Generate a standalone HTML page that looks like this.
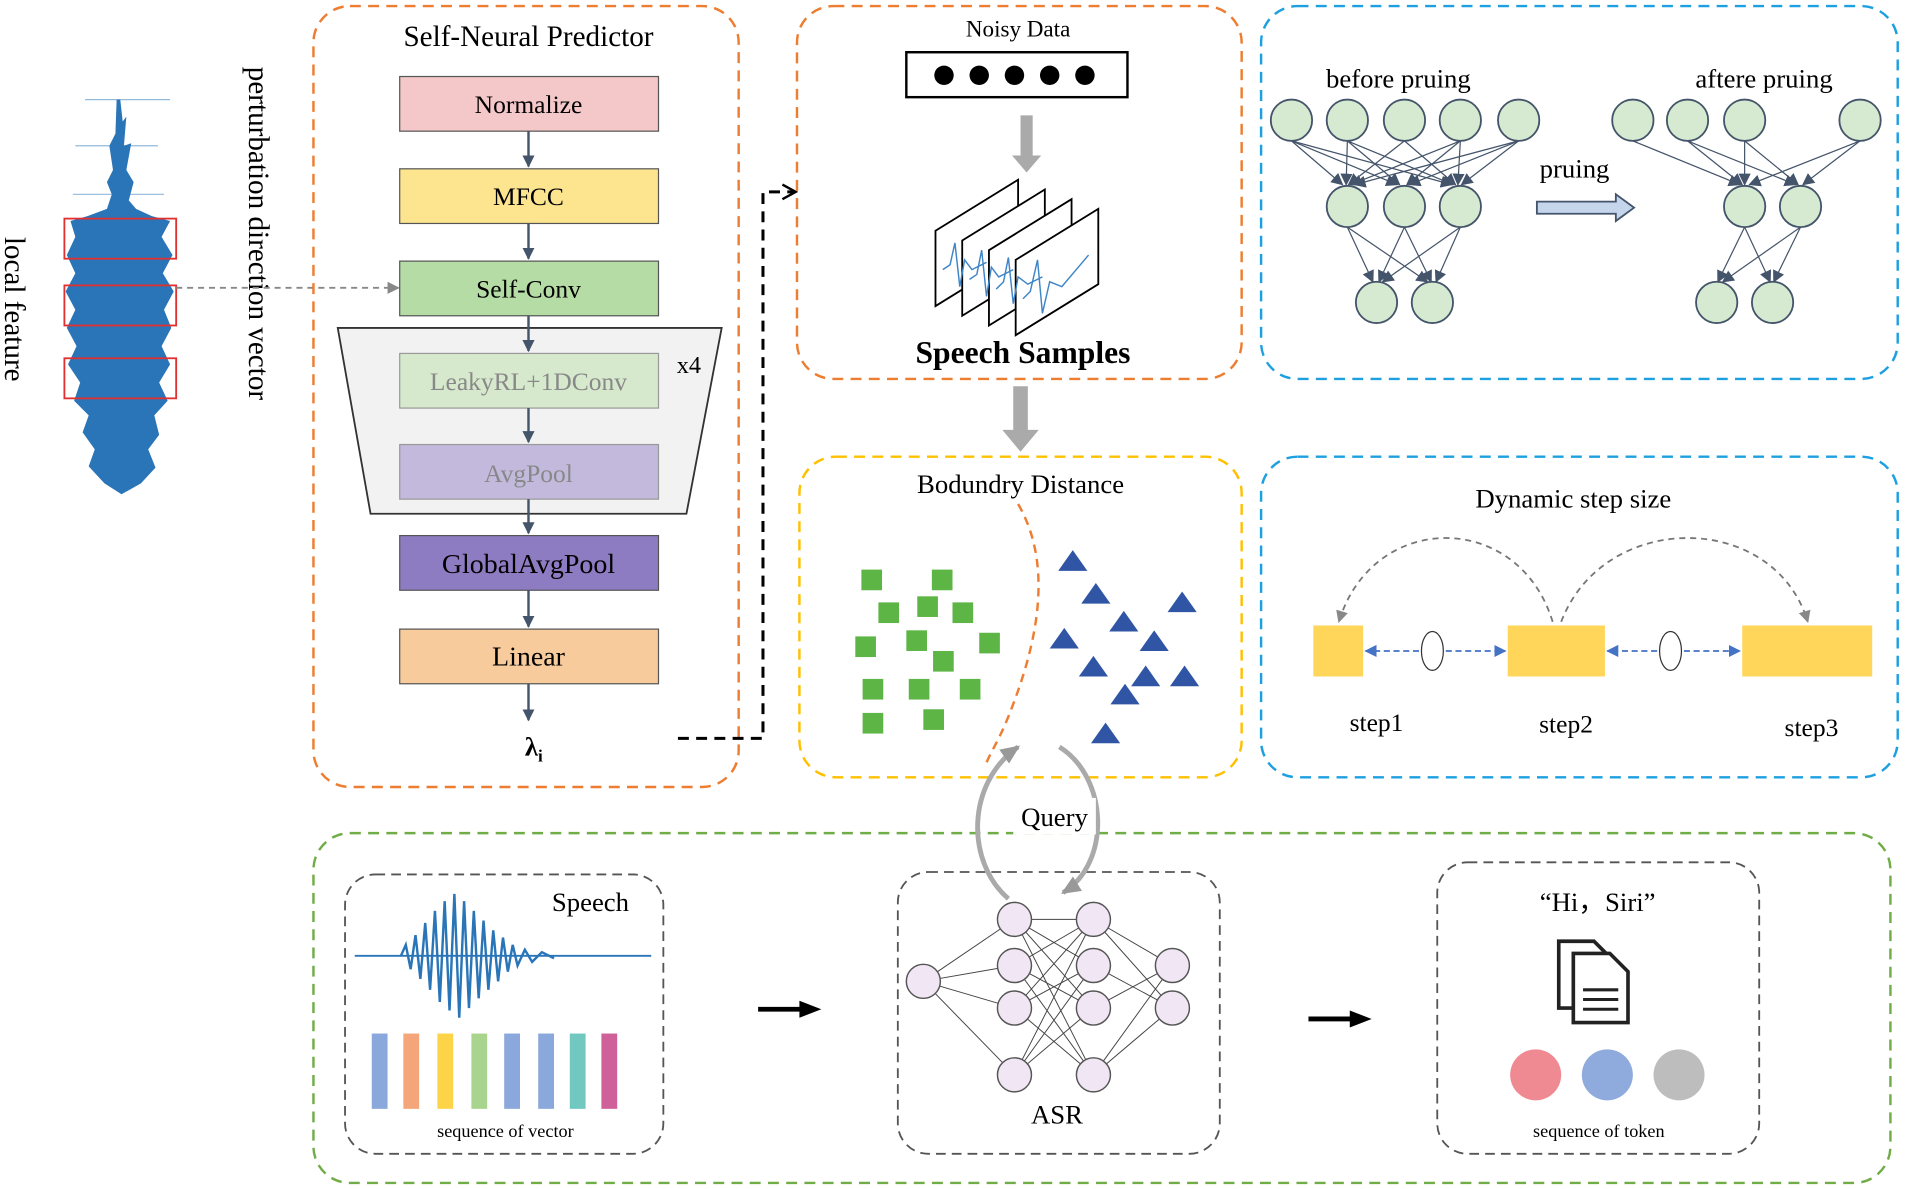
<!DOCTYPE html>
<html><head><meta charset="utf-8"><style>html,body{margin:0;padding:0;background:#fff;}svg{display:block}text{font-family:"Liberation Serif",serif;}</style></head>
<body>
<svg width="1905" height="1189" viewBox="0 0 1568 979" preserveAspectRatio="none" xmlns="http://www.w3.org/2000/svg">
<defs>
<marker id="ad" markerUnits="userSpaceOnUse" markerWidth="12" markerHeight="12" refX="9" refY="6" orient="auto"><path d="M0,1 L10,6 L0,11 z" fill="#44546a"/></marker>
<marker id="ag" markerUnits="userSpaceOnUse" markerWidth="12" markerHeight="12" refX="9" refY="6" orient="auto"><path d="M0,1 L10,6 L0,11 z" fill="#888"/></marker>
<marker id="agb" markerUnits="userSpaceOnUse" markerWidth="20" markerHeight="20" refX="14" refY="10" orient="auto"><path d="M0,3 L16,10 L0,17 z" fill="#999"/></marker>
<marker id="ab" markerUnits="userSpaceOnUse" markerWidth="12" markerHeight="12" refX="9" refY="6" orient="auto"><path d="M0,1 L10,6 L0,11 z" fill="#4472c4"/></marker>
<marker id="ak" markerUnits="userSpaceOnUse" markerWidth="14" markerHeight="14" refX="11" refY="7" orient="auto"><path d="M1,1 L12,7 L1,13" fill="none" stroke="#000" stroke-width="2"/></marker>
<marker id="an" markerUnits="userSpaceOnUse" markerWidth="12" markerHeight="12" refX="9" refY="6" orient="auto"><path d="M0,1 L10,6 L0,11 z" fill="#44546a"/></marker>
</defs>

<!-- left waveform -->
<g stroke="#2a75b8" stroke-width="1" opacity="0.5">
<line x1="70" y1="82" x2="140" y2="82"/><line x1="62" y1="120" x2="130" y2="120"/><line x1="60" y1="160" x2="135" y2="160"/>
</g>
<path fill="#2a75b8" d="M96,82 L99,82 L101,100 L104,96 L102,120 L108,118 L104,140 L110,150 L106,165 L112,172 L125,178 L140,182 L133,195 L142,210 L134,225 L143,240 L135,255 L141,270 L133,285 L140,300 L131,315 L138,330 L127,342 L131,358 L122,370 L128,385 L116,398 L100,407 L86,398 L73,384 L78,370 L68,356 L73,342 L61,330 L66,315 L56,300 L63,285 L55,270 L62,255 L54,240 L62,225 L55,210 L62,195 L58,182 L72,178 L88,172 L92,160 L88,150 L93,140 L90,120 L95,110 Z"/>
<g fill="none" stroke="#e03030" stroke-width="1.5">
<rect x="53" y="180" width="92" height="33"/><rect x="53" y="235" width="92" height="33"/><rect x="53" y="295" width="92" height="33"/>
</g>
<text transform="translate(4,195) rotate(90)" font-size="24">local feature</text>
<text transform="translate(205,55) rotate(90)" font-size="24">perturbation direction vector</text>
<line x1="145" y1="237" x2="328" y2="237" stroke="#888" stroke-width="1.5" stroke-dasharray="5,4" marker-end="url(#ag)"/>

<!-- Self-Neural Predictor -->
<rect x="258" y="5" width="350" height="643" rx="30" fill="none" stroke="#ed7d31" stroke-width="2" stroke-dasharray="9,6"/>
<text x="435" y="38" font-size="24" text-anchor="middle">Self-Neural Predictor</text>
<polygon points="278,270 594,270 565,423 305,423" fill="#f2f2f2" stroke="#333" stroke-width="1.5"/>
<text x="557" y="307" font-size="20">x4</text>
<g stroke="#555" stroke-width="1">
<rect x="329" y="63" width="213" height="45" fill="#f4c7c9"/>
<rect x="329" y="139" width="213" height="45" fill="#fde58f"/>
<rect x="329" y="215" width="213" height="45" fill="#b5dca5"/>
<rect x="329" y="291" width="213" height="45" fill="#d6e9cc" stroke="#999"/>
<rect x="329" y="366" width="213" height="45" fill="#c3b9dc" stroke="#999"/>
<rect x="329" y="441" width="213" height="45" fill="#8e7cc3"/>
<rect x="329" y="518" width="213" height="45" fill="#f8cb9c"/>
</g>
<g font-size="21" text-anchor="middle">
<text x="435" y="93">Normalize</text><text x="435" y="169">MFCC</text><text x="435" y="245">Self-Conv</text>
<text x="435" y="321" fill="#888">LeakyRL+1DConv</text><text x="435" y="397" fill="#888">AvgPool</text>
<text x="435" y="472" font-size="23">GlobalAvgPool</text><text x="435" y="548" font-size="23">Linear</text>
</g>
<g stroke="#44546a" stroke-width="2" marker-end="url(#ad)">
<line x1="435" y1="108" x2="435" y2="137"/><line x1="435" y1="184" x2="435" y2="213"/><line x1="435" y1="260" x2="435" y2="289"/>
<line x1="435" y1="336" x2="435" y2="364"/><line x1="435" y1="411" x2="435" y2="439"/><line x1="435" y1="486" x2="435" y2="516"/>
<line x1="435" y1="563" x2="435" y2="593"/>
</g>
<text x="432" y="622" font-size="22" font-weight="bold">λ<tspan font-size="14" dy="5">i</tspan></text>
<path d="M558,608 L628,608 L628,158 L654,158" fill="none" stroke="#000" stroke-width="2.5" stroke-dasharray="9,6" marker-end="url(#ak)"/>

<!-- Noisy data box -->
<rect x="656" y="5" width="366" height="307" rx="30" fill="none" stroke="#ed7d31" stroke-width="2" stroke-dasharray="9,6"/>
<text x="838" y="30" font-size="19" text-anchor="middle">Noisy Data</text>
<rect x="746" y="43" width="182" height="37" fill="#fff" stroke="#000" stroke-width="2"/>
<g fill="#000"><circle cx="777" cy="62" r="8"/><circle cx="806" cy="62" r="8"/><circle cx="835" cy="62" r="8"/><circle cx="864" cy="62" r="8"/><circle cx="893" cy="62" r="8"/></g>
<path d="M840,95 L850,95 L850,128 L857,128 L845,142 L833,128 L840,128 Z" fill="#aaa"/>
<g stroke="#000" stroke-width="1.5" fill="#fff">
<polygon points="770,190 838,148 838,210 770,252"/><polygon points="792,198 860,156 860,218 792,260"/>
<polygon points="814,206 882,164 882,226 814,268"/><polygon points="836,214 904,172 904,234 836,276"/>
</g>
<g stroke="#3f86c8" stroke-width="1.2" fill="none">
<path d="M776,222 L782,218 L786,200 L790,236 L794,214 L800,222 L812,216"/>
<path d="M798,230 L804,226 L808,206 L812,244 L816,220 L822,228 L834,222"/>
<path d="M820,238 L826,232 L830,212 L834,250 L838,228 L846,234 L858,228"/>
<path d="M842,246 L848,240 L854,214 L858,258 L864,232 L874,236 L896,210"/>
</g>
<text x="842" y="299" font-size="26" font-weight="bold" text-anchor="middle">Speech Samples</text>
<path d="M834,318 L846,318 L846,354 L855,354 L840,372 L825,354 L834,354 Z" fill="#aaa"/>

<!-- Boundary -->
<rect x="658" y="376" width="364" height="264" rx="30" fill="none" stroke="#ffc000" stroke-width="2" stroke-dasharray="9,6"/>
<text x="840" y="406" font-size="22" text-anchor="middle">Bodundry Distance</text>
<path d="M838,415 C870,470 850,540 830,590 C822,610 815,620 812,628" fill="none" stroke="#ed7d31" stroke-width="2" stroke-dasharray="7,5"/>
<g fill="#5db545">
<rect x="709" y="469" width="17" height="17"/><rect x="767" y="469" width="17" height="17"/><rect x="723" y="496" width="17" height="17"/><rect x="755" y="491" width="17" height="17"/><rect x="784" y="496" width="17" height="17"/>
<rect x="704" y="524" width="17" height="17"/><rect x="746" y="519" width="17" height="17"/><rect x="806" y="521" width="17" height="17"/><rect x="768" y="536" width="17" height="17"/>
<rect x="710" y="559" width="17" height="17"/><rect x="748" y="559" width="17" height="17"/><rect x="790" y="559" width="17" height="17"/><rect x="710" y="587" width="17" height="17"/><rect x="760" y="584" width="17" height="17"/>
</g>
<g fill="#2f55a4">
<polygon points="883,453 871,470 895,470"/><polygon points="902,480 890,497 914,497"/><polygon points="973,487 961,504 985,504"/><polygon points="925,503 913,520 937,520"/>
<polygon points="876,517 864,534 888,534"/><polygon points="950,519 938,536 962,536"/><polygon points="900,540 888,557 912,557"/><polygon points="943,548 931,565 955,565"/>
<polygon points="975,548 963,565 987,565"/><polygon points="926,563 914,580 938,580"/><polygon points="910,595 898,612 922,612"/>
</g>

<!-- pruning box -->
<rect x="1038" y="5" width="524" height="307" rx="30" fill="none" stroke="#1ea0e0" stroke-width="2" stroke-dasharray="9,6"/>
<text x="1151" y="72" font-size="22" text-anchor="middle">before pruing</text>
<text x="1452" y="72" font-size="22" text-anchor="middle">aftere pruing</text>
<text x="1296" y="146" font-size="22" text-anchor="middle">pruing</text>
<path d="M1265,166 L1330,166 L1330,160 L1345,171 L1330,182 L1330,176 L1265,176 Z" fill="#c5d5ec" stroke="#44546a" stroke-width="1.5"/>
<g stroke="#44546a" stroke-width="1" marker-end="url(#an)">
<line x1="1063" y1="116" x2="1105" y2="152"/><line x1="1063" y1="116" x2="1150" y2="152"/><line x1="1063" y1="116" x2="1195" y2="152"/>
<line x1="1109" y1="116" x2="1108" y2="152"/><line x1="1109" y1="116" x2="1152" y2="152"/><line x1="1109" y1="116" x2="1196" y2="152"/>
<line x1="1156" y1="116" x2="1110" y2="152"/><line x1="1156" y1="116" x2="1198" y2="152"/>
<line x1="1202" y1="116" x2="1112" y2="152"/><line x1="1202" y1="116" x2="1158" y2="152"/><line x1="1202" y1="116" x2="1200" y2="152"/>
<line x1="1250" y1="116" x2="1115" y2="152"/><line x1="1250" y1="116" x2="1160" y2="152"/><line x1="1250" y1="116" x2="1203" y2="152"/>
<line x1="1109" y1="187" x2="1130" y2="232"/><line x1="1109" y1="187" x2="1175" y2="232"/><line x1="1156" y1="187" x2="1135" y2="232"/><line x1="1156" y1="187" x2="1178" y2="232"/><line x1="1202" y1="187" x2="1138" y2="232"/><line x1="1202" y1="187" x2="1182" y2="232"/>
<line x1="1344" y1="116" x2="1432" y2="152"/><line x1="1389" y1="116" x2="1434" y2="152"/><line x1="1389" y1="116" x2="1478" y2="152"/><line x1="1436" y1="116" x2="1436" y2="152"/><line x1="1436" y1="116" x2="1480" y2="152"/><line x1="1531" y1="116" x2="1440" y2="152"/><line x1="1531" y1="116" x2="1484" y2="152"/>
<line x1="1436" y1="187" x2="1414" y2="232"/><line x1="1436" y1="187" x2="1457" y2="232"/><line x1="1482" y1="187" x2="1418" y2="232"/><line x1="1482" y1="187" x2="1460" y2="232"/>
</g>
<g fill="#d5ead0" stroke="#44546a" stroke-width="1.5">
<circle cx="1063" cy="99" r="17"/><circle cx="1109" cy="99" r="17"/><circle cx="1156" cy="99" r="17"/><circle cx="1202" cy="99" r="17"/><circle cx="1250" cy="99" r="17"/>
<circle cx="1109" cy="170" r="17"/><circle cx="1156" cy="170" r="17"/><circle cx="1202" cy="170" r="17"/>
<circle cx="1133" cy="249" r="17"/><circle cx="1179" cy="249" r="17"/>
<circle cx="1344" cy="99" r="17"/><circle cx="1389" cy="99" r="17"/><circle cx="1436" cy="99" r="17"/><circle cx="1531" cy="99" r="17"/>
<circle cx="1436" cy="170" r="17"/><circle cx="1482" cy="170" r="17"/>
<circle cx="1413" cy="249" r="17"/><circle cx="1459" cy="249" r="17"/>
</g>

<!-- dynamic step -->
<rect x="1038" y="376" width="524" height="264" rx="30" fill="none" stroke="#1ea0e0" stroke-width="2" stroke-dasharray="9,6"/>
<text x="1295" y="418" font-size="22" text-anchor="middle">Dynamic step size</text>
<path d="M1278,512 C1250,420 1130,420 1102,512" fill="none" stroke="#777" stroke-width="1.5" stroke-dasharray="5,4" marker-end="url(#ag)"/>
<path d="M1285,512 C1320,420 1460,420 1488,512" fill="none" stroke="#777" stroke-width="1.5" stroke-dasharray="5,4" marker-end="url(#ag)"/>
<g fill="#ffd55a"><rect x="1081" y="515" width="41" height="42"/><rect x="1241" y="515" width="80" height="42"/><rect x="1434" y="515" width="107" height="42"/></g>
<g stroke="#4472c4" stroke-width="1.5" stroke-dasharray="5,3">
<line x1="1168" y1="536" x2="1124" y2="536" marker-end="url(#ab)"/><line x1="1190" y1="536" x2="1239" y2="536" marker-end="url(#ab)"/>
<line x1="1364" y1="536" x2="1323" y2="536" marker-end="url(#ab)"/><line x1="1386" y1="536" x2="1432" y2="536" marker-end="url(#ab)"/>
</g>
<ellipse cx="1179" cy="536" rx="9" ry="16" fill="#fff" stroke="#333"/><ellipse cx="1375" cy="536" rx="9" ry="16" fill="#fff" stroke="#333"/>
<g font-size="21" text-anchor="middle"><text x="1133" y="602">step1</text><text x="1289" y="603">step2</text><text x="1491" y="606">step3</text></g>

<!-- bottom -->
<rect x="258" y="686" width="1298" height="288" rx="30" fill="none" stroke="#70ad47" stroke-width="2" stroke-dasharray="9,6"/>
<g fill="none" stroke="#555" stroke-width="1.5" stroke-dasharray="8,5">
<rect x="284" y="720" width="262" height="230" rx="25"/><rect x="739" y="718" width="265" height="232" rx="25"/><rect x="1183" y="710" width="265" height="240" rx="25"/>
</g>
<text x="486" y="750" font-size="22" text-anchor="middle">Speech</text>
<line x1="292" y1="787" x2="536" y2="787" stroke="#2a75b8" stroke-width="1.5"/>
<path d="M330,787 L334,778 L338,798 L342,770 L346,806 L350,760 L354,815 L358,750 L362,825 L366,742 L370,832 L374,736 L378,838 L382,742 L386,830 L390,750 L394,822 L398,758 L402,815 L406,766 L410,808 L414,772 L418,800 L422,778 L426,795 L432,782 L438,792 L446,784 L456,789" fill="none" stroke="#2a75b8" stroke-width="2"/>
<g>
<rect x="306" y="851" width="13" height="62" fill="#8aa8db"/><rect x="332" y="851" width="13" height="62" fill="#f4a57a"/><rect x="360" y="851" width="13" height="62" fill="#fdd347"/>
<rect x="388" y="851" width="13" height="62" fill="#a9d48e"/><rect x="415" y="851" width="13" height="62" fill="#8aa8db"/><rect x="443" y="851" width="13" height="62" fill="#8aa8db"/>
<rect x="469" y="851" width="13" height="62" fill="#70c8c0"/><rect x="495" y="851" width="13" height="62" fill="#d0609a"/>
</g>
<text x="416" y="936" font-size="15" text-anchor="middle">sequence of vector</text>
<line x1="624" y1="831" x2="660" y2="831" stroke="#000" stroke-width="4"/><polygon points="658,824 676,831 658,838" fill="#000"/>
<line x1="1077" y1="839" x2="1113" y2="839" stroke="#000" stroke-width="4"/><polygon points="1111,832 1129,839 1111,846" fill="#000"/>
<!-- ASR net -->
<g stroke="#444" stroke-width="0.8">
<path d="M760,808 L835,757 M760,808 L835,795 M760,808 L835,830 M760,808 L835,885 M835,757 L900,757 M835,757 L900,795 M835,757 L900,830 M835,757 L900,885 M835,795 L900,757 M835,795 L900,830 M835,795 L900,885 M835,830 L900,757 M835,830 L900,795 M835,830 L900,885 M835,885 L900,757 M835,885 L900,795 M835,885 L900,830 M900,757 L965,795 M900,795 L965,830 M900,830 L965,795 M900,885 L965,830 M900,757 L965,830 M900,885 L965,795"/>
</g>
<g fill="#f1e6f3" stroke="#555" stroke-width="1.2">
<circle cx="760" cy="808" r="14"/><circle cx="835" cy="757" r="14"/><circle cx="835" cy="795" r="14"/><circle cx="835" cy="830" r="14"/><circle cx="835" cy="885" r="14"/>
<circle cx="900" cy="757" r="14"/><circle cx="900" cy="795" r="14"/><circle cx="900" cy="830" r="14"/><circle cx="900" cy="885" r="14"/><circle cx="965" cy="795" r="14"/><circle cx="965" cy="830" r="14"/>
</g>
<text x="870" y="925" font-size="22" text-anchor="middle">ASR</text>
<path d="M830,740 C795,710 795,645 838,615" fill="none" stroke="#aaa" stroke-width="4" marker-end="url(#agb)"/>
<path d="M872,615 C912,640 915,710 875,735" fill="none" stroke="#aaa" stroke-width="4" marker-end="url(#agb)"/>
<rect x="834" y="657" width="68" height="30" fill="#fff"/>
<text x="868" y="680" font-size="22" text-anchor="middle">Query</text>
<text x="1315" y="750" font-size="22" text-anchor="middle">“Hi，Siri”</text>
<g fill="#fff" stroke="#222" stroke-width="3"><path d="M1283,775 L1312,775 L1325,788 L1325,830 L1283,830 Z"/><path d="M1295,785 L1325,785 L1340,800 L1340,842 L1295,842 Z"/></g>
<g stroke="#222" stroke-width="2.5"><line x1="1303" y1="815" x2="1332" y2="815"/><line x1="1303" y1="823" x2="1332" y2="823"/><line x1="1303" y1="831" x2="1332" y2="831"/></g>
<circle cx="1264" cy="885" r="21" fill="#ef8a93"/><circle cx="1323" cy="885" r="21" fill="#8faadc"/><circle cx="1382" cy="885" r="21" fill="#bdbdbd"/>
<text x="1316" y="936" font-size="15" text-anchor="middle">sequence of token</text>
</svg>
</body></html>
